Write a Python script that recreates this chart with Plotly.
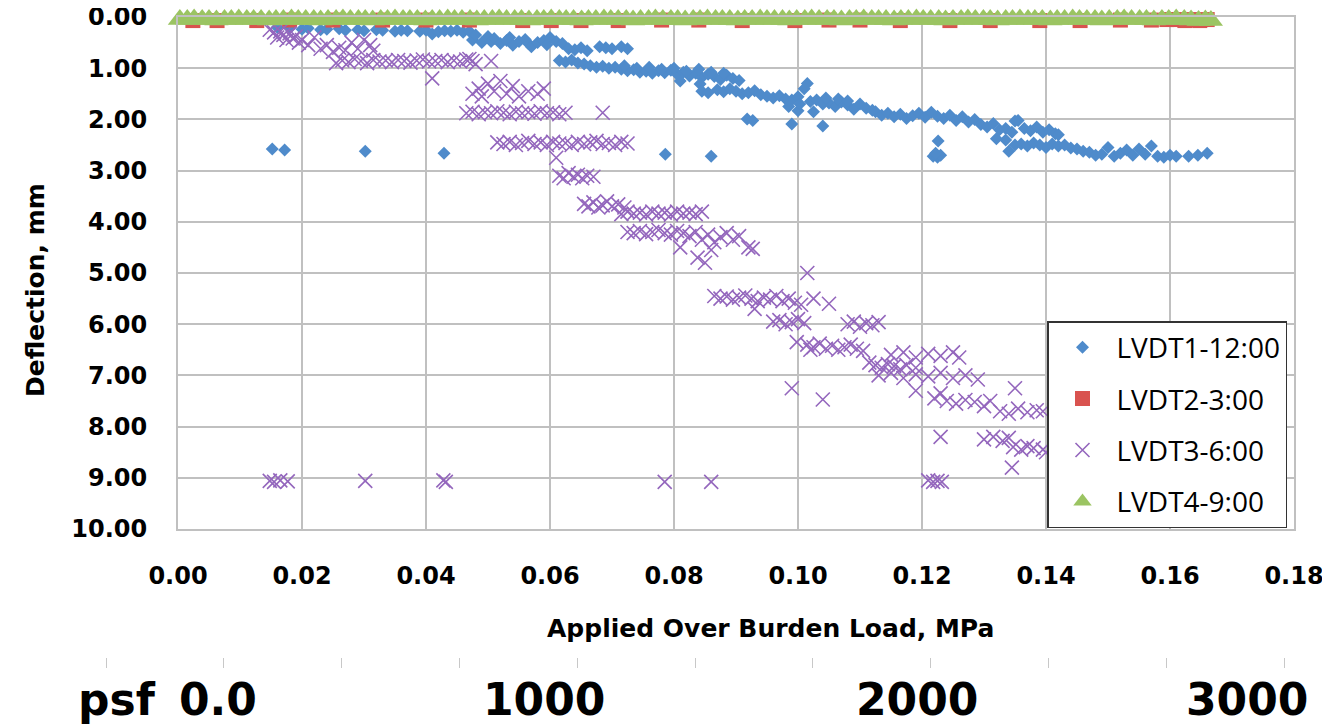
import plotly.graph_objects as go

# ---------------- data ----------------
lvdt1_x = [
    0.0152, 0.0172, 0.0302, 0.0429, 0.0786, 0.0860,
    0.016, 0.018, 0.020, 0.021, 0.023, 0.024, 0.026, 0.027, 0.029, 0.030, 0.032, 0.033,
    0.035, 0.036, 0.037, 0.039, 0.040, 0.041, 0.042, 0.043, 0.044, 0.045, 0.046, 0.047,
    0.0475, 0.048, 0.049, 0.050, 0.0505, 0.051, 0.052, 0.053, 0.0535, 0.054, 0.055, 0.056,
    0.0565, 0.057, 0.058, 0.059, 0.0595, 0.060, 0.061, 0.062,
    0.063, 0.064, 0.065, 0.066, 0.068, 0.069, 0.070, 0.0715, 0.0725,
    0.0615, 0.0625, 0.0635, 0.0645, 0.0655, 0.0665, 0.0675, 0.0685, 0.0695, 0.0705, 0.0715,
    0.0725, 0.0735, 0.0745, 0.0755, 0.0765, 0.0775, 0.0785, 0.0795, 0.0805, 0.0815, 0.0825,
    0.0835, 0.0845, 0.0855, 0.0865, 0.0875, 0.0885, 0.0895, 0.0905,
    0.072, 0.074, 0.076, 0.078, 0.080, 0.082, 0.084, 0.086, 0.088, 0.081, 0.0842,
    0.0845, 0.0855, 0.087, 0.088, 0.089, 0.090, 0.091, 0.092, 0.093, 0.094, 0.095, 0.096,
    0.097, 0.098, 0.099, 0.100, 0.101, 0.1015, 0.0985, 0.1000, 0.1003,
    0.0918, 0.0927, 0.0990, 0.1040,
    0.102, 0.103, 0.104, 0.105, 0.106, 0.107, 0.108, 0.109, 0.110, 0.111, 0.112,
    0.1025, 0.1045, 0.1065, 0.1080,
    0.1125, 0.1135, 0.1145, 0.1155, 0.1165, 0.1175, 0.1185, 0.1195, 0.1205, 0.1215, 0.1225,
    0.1235, 0.1245, 0.1255, 0.1265, 0.1275, 0.1285, 0.1295, 0.1305, 0.1315, 0.1325, 0.1335,
    0.1345, 0.1355,
    0.1226, 0.1218, 0.1225, 0.1230, 0.1222,
    0.1365, 0.1375, 0.1385, 0.1395, 0.1405, 0.1415, 0.1420,
    0.1335, 0.1350, 0.1360, 0.1370, 0.1380, 0.1390, 0.1400, 0.1410, 0.1420, 0.1430, 0.1440,
    0.1450, 0.1460, 0.1340, 0.1350, 0.1320,
    0.147, 0.148, 0.149, 0.150, 0.151, 0.152, 0.153, 0.154, 0.155, 0.156, 0.157, 0.158,
    0.159, 0.160, 0.161, 0.163, 0.1645, 0.166,
]
lvdt1_y = [
    2.58, 2.60, 2.62, 2.66, 2.68, 2.72,
    0.20, 0.22, 0.24, 0.22, 0.25, 0.24, 0.23, 0.26, 0.25, 0.27, 0.25, 0.26,
    0.28, 0.26, 0.27, 0.28, 0.26, 0.33, 0.29, 0.27, 0.28, 0.26, 0.30, 0.28,
    0.45, 0.35, 0.50, 0.38, 0.48, 0.42, 0.52, 0.46, 0.40, 0.55, 0.48, 0.44,
    0.52, 0.58, 0.50, 0.46, 0.54, 0.40, 0.48, 0.52,
    0.62, 0.64, 0.60, 0.66, 0.58, 0.60, 0.62, 0.58, 0.62,
    0.85, 0.88, 0.84, 0.90, 0.92, 0.95, 0.98, 0.96, 1.00, 0.98, 1.02,
    1.05, 1.03, 1.08, 1.06, 1.10, 1.05, 1.09, 1.04, 1.12, 1.08, 1.15,
    1.10, 1.18, 1.12, 1.16, 1.22, 1.14, 1.20, 1.24,
    0.95, 1.00, 0.98, 1.02, 1.00, 1.06, 1.02, 1.08, 1.10, 1.25, 1.31,
    1.45, 1.48, 1.42, 1.46, 1.40, 1.45, 1.50, 1.48, 1.44, 1.52, 1.55, 1.58,
    1.54, 1.60, 1.62, 1.56, 1.40, 1.30, 1.75, 1.83, 1.70,
    1.99, 2.02, 2.09, 2.13,
    1.65, 1.62, 1.70, 1.68, 1.75, 1.66, 1.72, 1.80, 1.70, 1.78, 1.82,
    1.85, 1.58, 1.60, 1.64,
    1.85, 1.92, 1.88, 1.95, 1.90, 1.98, 1.93, 1.88, 1.96, 1.86, 1.94,
    1.98, 1.92, 2.02, 1.95, 2.05, 2.00, 2.10, 2.15, 2.08, 2.20, 2.18,
    2.25, 2.02,
    2.42, 2.72, 2.74, 2.70, 2.66,
    2.18, 2.22, 2.15, 2.25, 2.20, 2.28, 2.30,
    2.40, 2.50, 2.48, 2.52, 2.46, 2.50, 2.55, 2.48, 2.52, 2.50, 2.56,
    2.58, 2.62, 2.62, 2.03, 2.38,
    2.64, 2.70, 2.68, 2.55, 2.72, 2.66, 2.60, 2.70, 2.58, 2.68, 2.52, 2.72,
    2.74, 2.70, 2.72, 2.72, 2.70, 2.66,
]

lvdt2_x = [
    0.0024, 0.0063, 0.0127, 0.0180, 0.0250, 0.0330, 0.0400, 0.0470, 0.0556, 0.0602,
    0.0650, 0.0710, 0.0780, 0.0840, 0.0910, 0.0995, 0.1050, 0.1100, 0.1165, 0.1245,
    0.1310, 0.1390, 0.1455, 0.1520, 0.1570, 0.1595, 0.1610, 0.1624, 0.1635, 0.1648, 0.1660,
]
lvdt2_y = [
    0.07, 0.07, 0.07, 0.06, 0.06, 0.06, 0.06, 0.06, 0.07, 0.07,
    0.07, 0.07, 0.06, 0.06, 0.07, 0.07, 0.06, 0.06, 0.07, 0.07,
    0.07, 0.07, 0.07, 0.06, 0.06, 0.05, 0.05, 0.07, 0.05, 0.07, 0.05,
]

lvdt3_x = [
    0.0148, 0.0155, 0.0160, 0.0165, 0.0170, 0.0175, 0.0180, 0.0185, 0.0190, 0.0195, 0.0200,
    0.0210, 0.0220,
    0.0230, 0.0240, 0.0250, 0.0260, 0.0270, 0.0280, 0.0290, 0.0300, 0.0310, 0.0315,
    0.0255, 0.0265, 0.0275, 0.0285, 0.0295, 0.0305, 0.0315, 0.0325, 0.0335, 0.0345, 0.0355,
    0.0365, 0.0375, 0.0385, 0.0395, 0.0405, 0.0415, 0.0425, 0.0435, 0.0445, 0.0455, 0.0465,
    0.0475, 0.0410, 0.0505, 0.0470, 0.0480,
    0.0475, 0.0485, 0.0490, 0.0500, 0.0510, 0.0520, 0.0530, 0.0540, 0.0550, 0.0565, 0.0580,
    0.0590,
    0.0465, 0.0475, 0.0485, 0.0495, 0.0505, 0.0515, 0.0525, 0.0535, 0.0545, 0.0555, 0.0565,
    0.0575, 0.0585, 0.0595, 0.0605, 0.0615, 0.0625, 0.0685,
    0.0515, 0.0525, 0.0535, 0.0545, 0.0555, 0.0565, 0.0575, 0.0585, 0.0595, 0.0605, 0.0615,
    0.0625, 0.0635, 0.0645, 0.0655, 0.0665, 0.0675, 0.0685, 0.0695, 0.0705, 0.0715, 0.0725,
    0.0610,
    0.0615, 0.0622, 0.0630, 0.0638, 0.0645, 0.0652, 0.0660, 0.0670,
    0.0655, 0.0662, 0.0670, 0.0678, 0.0685, 0.0692, 0.0700, 0.0710, 0.0720,
    0.0715, 0.0725, 0.0735, 0.0745, 0.0755, 0.0765, 0.0775, 0.0785, 0.0795, 0.0805, 0.0815,
    0.0825, 0.0835, 0.0845,
    0.0725, 0.0735, 0.0745, 0.0755, 0.0765, 0.0775, 0.0785, 0.0795, 0.0805, 0.0815, 0.0825,
    0.0835, 0.0845, 0.0855, 0.0865, 0.0875, 0.0885, 0.0895, 0.0905,
    0.0810, 0.0860, 0.0920, 0.0850, 0.0838,
    0.0865, 0.0875, 0.0885, 0.0895, 0.0905, 0.0915, 0.0925, 0.0935, 0.0945, 0.0955, 0.0965,
    0.0975, 0.0985, 0.0995, 0.1005, 0.1025, 0.1050,
    0.0930, 0.1015, 0.0927,
    0.0960, 0.0970, 0.0980, 0.0990, 0.1000, 0.1010,
    0.1080, 0.1090, 0.1100, 0.1110, 0.1120, 0.1130,
    0.0998, 0.1015, 0.1025, 0.1035, 0.1045, 0.1055, 0.1065, 0.1075, 0.1085, 0.1095, 0.1105,
    0.1020,
    0.1115, 0.1125, 0.1135, 0.1145, 0.1155, 0.1165, 0.1175, 0.1190,
    0.1130, 0.1150, 0.1170, 0.1190, 0.1210, 0.1230, 0.1250, 0.1270, 0.1290,
    0.1150, 0.1170, 0.1190, 0.1210, 0.1230, 0.1250, 0.1260,
    0.0990, 0.1040, 0.1190, 0.1230, 0.1350,
    0.1220, 0.1240, 0.1255, 0.1270, 0.1285, 0.1300, 0.1310,
    0.1326, 0.1340, 0.1355, 0.1370, 0.1385, 0.1395,
    0.1230, 0.1300, 0.1315, 0.1330, 0.1340,
    0.1347, 0.1360, 0.1370, 0.1380, 0.1395, 0.1400, 0.1345,
    0.0148, 0.0155, 0.0165, 0.0177, 0.0302, 0.0428, 0.0432, 0.0785, 0.0860,
    0.1210, 0.1218, 0.1225, 0.1232,
]
lvdt3_y = [
    0.25, 0.30, 0.40, 0.28, 0.35, 0.45, 0.32, 0.42, 0.38, 0.50, 0.45,
    0.55, 0.40,
    0.62, 0.55, 0.68, 0.60, 0.65, 0.50, 0.62, 0.45, 0.55, 0.66,
    0.90, 0.85, 0.88, 0.82, 0.86, 0.90, 0.84, 0.87, 0.85, 0.88, 0.84,
    0.86, 0.89, 0.85, 0.83, 0.87, 0.86, 0.84, 0.88, 0.85, 0.87, 0.83,
    0.86, 1.20, 0.86, 0.82, 0.92,
    1.50, 1.40, 1.55, 1.30, 1.45, 1.25, 1.50, 1.35, 1.55, 1.45, 1.50,
    1.40,
    1.88, 1.85, 1.90, 1.86, 1.88, 1.84, 1.87, 1.90, 1.85, 1.88, 1.86,
    1.89, 1.84, 1.88, 1.86, 1.90, 1.87, 1.87,
    2.45, 2.48, 2.44, 2.50, 2.46, 2.42, 2.48, 2.45, 2.50, 2.44, 2.47,
    2.46, 2.50, 2.44, 2.48, 2.45, 2.42, 2.48, 2.46, 2.50, 2.44, 2.47,
    2.75,
    3.10, 3.15, 3.05, 3.12, 3.08, 3.15, 3.10, 3.12,
    3.65, 3.70, 3.62, 3.72, 3.68, 3.60, 3.70, 3.66, 3.72,
    3.85, 3.80, 3.84, 3.82, 3.86, 3.80, 3.84, 3.82, 3.86, 3.80, 3.84,
    3.82, 3.85, 3.80,
    4.20, 4.22, 4.18, 4.24, 4.20, 4.16, 4.22, 4.25, 4.18, 4.22, 4.28,
    4.20, 4.35, 4.25, 4.40, 4.30, 4.22, 4.35, 4.28,
    4.50, 4.55, 4.50, 4.80, 4.70,
    5.45, 5.50, 5.46, 5.52, 5.48, 5.44, 5.50, 5.55, 5.48, 5.52, 5.45,
    5.55, 5.50, 5.58, 5.62, 5.50, 5.60,
    5.70, 5.00, 4.53,
    5.95, 5.92, 6.00, 5.96, 5.90, 5.98,
    6.00, 5.95, 6.05, 5.98, 6.02, 5.96,
    6.35, 6.40, 6.45, 6.38, 6.48, 6.42, 6.50, 6.45, 6.40, 6.48, 6.52,
    6.50,
    6.75, 6.80, 6.85, 6.78, 6.82, 6.88, 6.80, 6.85,
    7.00, 6.95, 7.05, 6.98, 7.02, 6.95, 7.05, 7.00, 7.08,
    6.60, 6.55, 6.65, 6.58, 6.62, 6.55, 6.65,
    7.25, 7.47, 7.30, 7.35, 7.25,
    7.45, 7.50, 7.55, 7.48, 7.52, 7.60, 7.50,
    7.70, 7.75, 7.65, 7.72, 7.68, 7.70,
    8.20, 8.25, 8.20, 8.28, 8.22,
    8.40, 8.45, 8.38, 8.42, 8.45, 8.50, 8.80,
    9.06, 9.08, 9.05, 9.07, 9.06, 9.05, 9.08, 9.08, 9.08,
    9.05, 9.08, 9.06, 9.08,
]

lvdt4_x = [
    0.0003, 0.0015, 0.0026, 0.0039, 0.0050, 0.0062, 0.0075, 0.0086, 0.0098, 0.0111,
    0.0122, 0.0134, 0.0147, 0.0158, 0.0170, 0.0183, 0.0194, 0.0206, 0.0219, 0.0230,
    0.0242, 0.0255, 0.0266, 0.0278, 0.0291, 0.0302, 0.0314, 0.0327, 0.0338, 0.0350,
    0.0363, 0.0374, 0.0386, 0.0399, 0.0410, 0.0422, 0.0435, 0.0446, 0.0458, 0.0471,
    0.0482, 0.0494, 0.0507, 0.0518, 0.0530, 0.0543, 0.0554, 0.0566, 0.0579, 0.0590,
    0.0602, 0.0615, 0.0626, 0.0638, 0.0651, 0.0662, 0.0674, 0.0687, 0.0698, 0.0710,
    0.0723, 0.0734, 0.0746, 0.0759, 0.0770, 0.0782, 0.0795, 0.0806, 0.0818, 0.0831,
    0.0842, 0.0854, 0.0867, 0.0878, 0.0890, 0.0903, 0.0914, 0.0926, 0.0939, 0.0950,
    0.0962, 0.0975, 0.0986, 0.0998, 0.1011, 0.1022, 0.1034, 0.1047, 0.1058, 0.1070,
    0.1083, 0.1094, 0.1106, 0.1119, 0.1130, 0.1142, 0.1155, 0.1166, 0.1178, 0.1191,
    0.1202, 0.1214, 0.1227, 0.1238, 0.1250, 0.1263, 0.1274, 0.1286, 0.1299, 0.1310,
    0.1322, 0.1335, 0.1346, 0.1358, 0.1371, 0.1382, 0.1394, 0.1407, 0.1418, 0.1430,
    0.1443, 0.1454, 0.1466, 0.1479, 0.1490, 0.1502, 0.1515, 0.1526, 0.1538, 0.1551,
    0.1562, 0.1574, 0.1587, 0.1598, 0.1610, 0.1623, 0.1634, 0.1646, 0.1657, 0.1666,
]
lvdt4_y = [
    0.05, 0.05, 0.04, 0.05, 0.05, 0.06, 0.05, 0.05, 0.04, 0.05,
    0.05, 0.05, 0.06, 0.05, 0.05, 0.04, 0.05, 0.05, 0.05, 0.06,
    0.05, 0.05, 0.04, 0.05, 0.05, 0.05, 0.06, 0.05, 0.05, 0.04,
    0.05, 0.05, 0.05, 0.06, 0.05, 0.05, 0.04, 0.05, 0.05, 0.05,
    0.06, 0.05, 0.05, 0.04, 0.05, 0.05, 0.05, 0.06, 0.05, 0.05,
    0.04, 0.05, 0.05, 0.05, 0.06, 0.05, 0.05, 0.04, 0.05, 0.05,
    0.05, 0.06, 0.05, 0.05, 0.04, 0.05, 0.05, 0.05, 0.06, 0.05,
    0.05, 0.04, 0.05, 0.05, 0.05, 0.06, 0.05, 0.05, 0.04, 0.05,
    0.05, 0.05, 0.06, 0.05, 0.05, 0.04, 0.05, 0.05, 0.05, 0.06,
    0.05, 0.05, 0.04, 0.05, 0.05, 0.05, 0.06, 0.05, 0.05, 0.04,
    0.05, 0.05, 0.05, 0.06, 0.05, 0.05, 0.04, 0.05, 0.05, 0.05,
    0.06, 0.05, 0.05, 0.04, 0.05, 0.05, 0.05, 0.06, 0.05, 0.05,
    0.04, 0.05, 0.05, 0.05, 0.06, 0.05, 0.05, 0.04, 0.05, 0.05,
    0.05, 0.06, 0.05, 0.05, 0.04, 0.05, 0.06, 0.07, 0.06, 0.07,
]

series_names = ["LVDT1-12:00", "LVDT2-3:00", "LVDT3-6:00", "LVDT4-9:00"]
y_ticks = [0, 1, 2, 3, 4, 5, 6, 7, 8, 9, 10]
x_ticks = [0.00, 0.02, 0.04, 0.06, 0.08, 0.10, 0.12, 0.14, 0.16, 0.18]
psf_tick_count = [0, 1, 2, 3, 4, 5, 6, 7, 8, 9, 10]
psf_labels = ["psf", "0.0", "1000", "2000", "3000"]

# ---------------- styling ----------------
# The page body has an 8 px margin, so the figure starts at (8, 8) in the window.
WIN_W, WIN_H = 1330, 728
OFF = 8
W, H = WIN_W - OFF, WIN_H - OFF


def px_x(px):
    return (px - OFF) / W


def px_y(py):
    return (WIN_H - py) / H


FONT = "DejaVu Sans"
LEG_FONT = "Open Sans"
BLUE = "#4F8BCB"
RED = "#D9534F"
PURPLE = "#9467BD"
GREEN = "#9BC462"
GRID = "#C0C0C0"

fig = go.Figure()
fig.add_trace(go.Scatter(
    x=lvdt1_x, y=lvdt1_y, mode="markers", name=series_names[0], legendgroup="g1",
    marker=dict(symbol="diamond", size=10, color=BLUE), cliponaxis=False))
fig.add_trace(go.Scatter(
    x=lvdt2_x, y=lvdt2_y, mode="markers", name=series_names[1], legendgroup="g2",
    marker=dict(symbol="square", size=15, color=RED), cliponaxis=False))
fig.add_trace(go.Scatter(
    x=lvdt3_x, y=lvdt3_y, mode="markers", name=series_names[2], legendgroup="g3",
    marker=dict(symbol="x-thin", size=14, color=PURPLE,
                line=dict(color=PURPLE, width=1.6)), cliponaxis=False))
fig.add_trace(go.Scatter(
    x=lvdt4_x, y=lvdt4_y, mode="markers", name=series_names[3], legendgroup="g4",
    marker=dict(symbol="triangle-up", size=21, color=GREEN), cliponaxis=False))
# helper trace so the psf scale (x2/y2) is drawn
fig.add_trace(go.Scatter(x=[None], y=[None], xaxis="x2", yaxis="y2",
                         showlegend=False, hoverinfo="skip"))

tickfont = dict(family=FONT, size=24, color="black", weight="bold")
fig.update_layout(
    width=W, height=H,
    margin=dict(l=0, r=0, t=0, b=0, autoexpand=False),
    paper_bgcolor="white", plot_bgcolor="white",
    showlegend=True,
    xaxis=dict(
        domain=[px_x(178), px_x(1294)], range=[0, 0.18], automargin=False,
        tickmode="array", tickvals=x_ticks, tickformat=".2f",
        showgrid=True, gridcolor=GRID, gridwidth=2,
        showline=True, linecolor=GRID, linewidth=2, mirror=True,
        zeroline=False, ticks="", tickfont=tickfont, ticklabelstandoff=24,
    ),
    yaxis=dict(
        domain=[px_y(529), px_y(17)], range=[10, 0], automargin=False,
        tickmode="array", tickvals=y_ticks, tickformat=".2f",
        showgrid=True, gridcolor=GRID, gridwidth=2,
        showline=True, linecolor=GRID, linewidth=2, mirror=True,
        zeroline=False, ticks="", tickfont=tickfont, ticklabelstandoff=24,
        ticklabeloverflow="allow",
    ),
    xaxis2=dict(
        domain=[px_x(106), px_x(1284)], range=[psf_tick_count[0], psf_tick_count[-1]],
        tickmode="array", tickvals=psf_tick_count, anchor="y2", automargin=False,
        ticks="outside", ticklen=10, tickwidth=1, tickcolor="#C8C8C8",
        showline=False, showgrid=False, zeroline=False, showticklabels=False,
        fixedrange=True,
    ),
    yaxis2=dict(domain=[px_y(657), px_y(655)], anchor="x2", visible=False,
                fixedrange=True, automargin=False),
    legend=dict(
        x=px_x(1287), xanchor="right", y=px_y(528), yanchor="bottom",
        bgcolor="white", bordercolor="#333333", borderwidth=1.5,
        font=dict(family=LEG_FONT, size=28, color="black"),
        tracegroupgap=12, itemsizing="trace", itemwidth=58,
    ),
)

ann_font_axis = dict(family=FONT, size=25, color="black", weight="bold")
ann_font_psf = dict(family=FONT, size=44, color="black", weight="bold")
annotations = [
    dict(text="Deflection, mm", x=px_x(35), y=px_y(290), textangle=-90,
         font=ann_font_axis),
    dict(text="Applied Over Burden Load, MPa", x=px_x(770), y=px_y(628),
         font=ann_font_axis),
]
psf_x_px = [117, 218, 544, 917, 1247]
for lbl, px in zip(psf_labels, psf_x_px):
    annotations.append(dict(text=lbl, x=px_x(px), y=px_y(699), font=ann_font_psf))
for a in annotations:
    a.update(xref="paper", yref="paper", showarrow=False, xanchor="center",
             yanchor="middle")
fig.update_layout(annotations=annotations)

fig.write_html("out.html")
